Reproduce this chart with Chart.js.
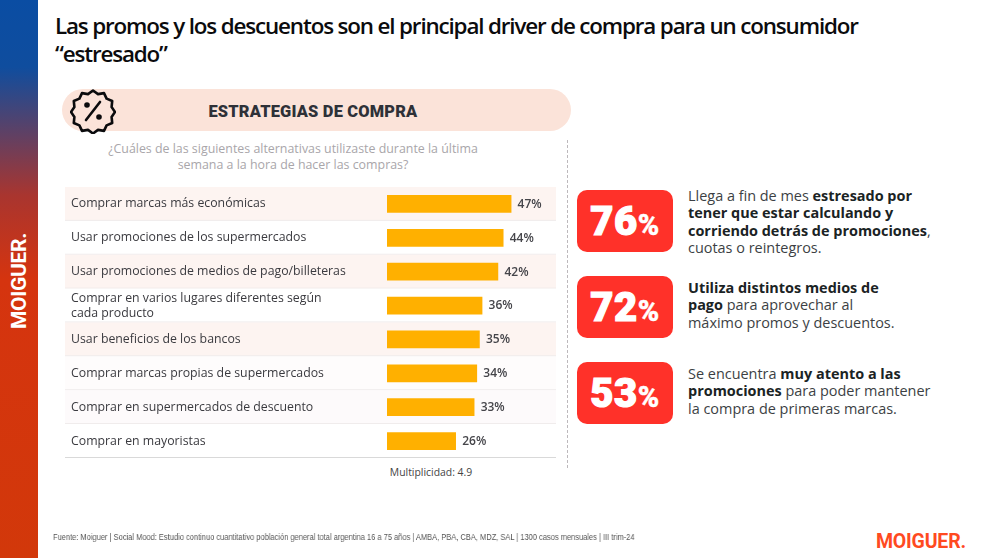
<!DOCTYPE html>
<html lang="es">
<head>
<meta charset="utf-8">
<title>Estrategias de compra</title>
<script src="https://cdn.jsdelivr.net/npm/chart.js@4"></script>
<style>
  html, body { margin: 0; padding: 0; background: #fff; }
  #page { position: relative; width: 992px; height: 558px; overflow: hidden; font-family: "Open Sans", sans-serif; }
  #page > * { position: absolute; }
  #side { left: 0; top: 0; width: 38px; height: 558px; background: linear-gradient(#0a4da3 0%, #0f4d9e 12%, #a9352f 35%, #d5340f 50%, #d2380a 100%); }
  #sideLogo { left: 19px; top: 281px; transform: translate(-50%, -50%) rotate(-90deg); color: #fff; font: 700 21px "Roboto", sans-serif; letter-spacing: -0.3px; white-space: nowrap; }
  #title { left: 55px; top: 12px; width: 880px; color: #0b0b0d; font-size: 22.4px; line-height: 27.5px; font-weight: 600; letter-spacing: -1.15px; white-space: nowrap; }
  #pill { left: 62px; top: 89px; width: 509px; height: 42px; border-radius: 21px; background: #fbe3d9; }
  #badge { left: 70px; top: 88px; }
  #pillText { left: 62px; top: 90px; width: 502px; height: 42px; text-align: center; color: #2e3138; font: 900 16.4px/44px "Roboto", sans-serif; letter-spacing: 0.2px; }
  #question { left: 65px; top: 141px; width: 456px; text-align: center; color: #a9a6aa; font-size: 12.4px; line-height: 15.5px; }
  #wrap { left: 65px; top: 187px; width: 491px; height: 271px; }
  #multi { left: 331px; top: 465px; width: 200px; text-align: center; color: #444; font-size: 10.4px; line-height: 14px; }
  #divider { left: 567px; top: 140px; height: 328px; border-left: 1px dashed #bdb9bc; }
  .card { left: 577px; width: 96px; height: 62px; border-radius: 10px; background: #ff3129; color: #fff; font: 900 40px/64px "Roboto", sans-serif; text-align: center; white-space: nowrap; -webkit-text-stroke: 1.2px #fff; letter-spacing: 0.6px; }
  .card small { font-size: 29px; font-weight: 900; -webkit-text-stroke: 0.4px #fff; }
  .note { left: 688px; width: 270px; color: #3c3f44; font-size: 14.45px; line-height: 17.4px; white-space: nowrap; }
  .note b { color: #1a2324; font-weight: 700; }
  #source { left: 53px; top: 531px; color: #555; font: 400 9.3px/12px "Liberation Sans", sans-serif; white-space: nowrap; transform-origin: left center; transform: scaleX(0.805); will-change: transform; }
  #logo { left: 876px; top: 530px; color: #ff4a1f; font: 700 19.5px/24px "Roboto", sans-serif; letter-spacing: -0.2px; white-space: nowrap; }
</style>
</head>
<body>
<div id="page">
  <div id="side"></div>
  <div id="sideLogo">MOIGUER.</div>
  <div id="title">Las promos y los descuentos son el principal driver de compra para un consumidor<br>“estresado”</div>
  <div id="pill"></div>
  <svg id="badge" width="46" height="46" viewBox="0 0 46 46">
    <path fill="none" stroke="#0b0b0d" stroke-width="2.6" stroke-linejoin="round"
      d="M23 2.5l5 3.6 6-1 2.6 5.5 5.6 2.400-.6 6.100 3.400 4.900-3.400 4.900.6 6.100-5.600 2.400-2.600 5.500-6-1-5 3.600-5-3.600-6 1-2.600-5.500-5.600-2.400.6-6.100-3.400-4.900 3.400-4.900-.6-6.100 5.600-2.400 2.600-5.500 6 1z"/>
    <circle cx="17" cy="17" r="2.800" fill="#0b0b0d"/>
    <circle cx="29" cy="29" r="2.800" fill="#0b0b0d"/>
    <path d="M30 14L16 32" stroke="#0b0b0d" stroke-width="2.600" stroke-linecap="round"/>
  </svg>
  <div id="pillText">ESTRATEGIAS DE COMPRA</div>
  <div id="question">¿Cuáles de las siguientes alternativas utilizaste durante la última<br>semana a la hora de hacer las compras?</div>
  <div id="wrap"><canvas id="chart" width="491" height="271"></canvas></div>
  <div id="multi">Multiplicidad: 4.9</div>
  <div id="divider"></div>

  <div class="card" style="top:190px">76<small>%</small></div>
  <div class="note" style="top:187px">Llega a fin de mes <b>estresado por</b><br><b>tener que estar calculando y</b><br><b>corriendo detrás de promociones</b>,<br>cuotas o reintegros.</div>
  <div class="card" style="top:276px">72<small>%</small></div>
  <div class="note" style="top:279px"><b>Utiliza distintos medios de</b><br><b>pago</b> para aprovechar al<br>máximo promos y descuentos.</div>
  <div class="card" style="top:362px">53<small>%</small></div>
  <div class="note" style="top:365px">Se encuentra <b>muy atento a las</b><br><b>promociones</b> para poder mantener<br>la compra de primeras marcas.</div>

  <div id="source">Fuente: Moiguer | Social Mood: Estudio continuo cuantitativo población general total argentina 16 a 75 años | AMBA, PBA, CBA, MDZ, SAL | 1300 casos mensuales | III trim-24</div>
  <div id="logo">MOIGUER.</div>
</div>

<script>
const categories = [
  'Comprar marcas más económicas',
  'Usar promociones de los supermercados',
  'Usar promociones de medios de pago/billeteras',
  ['Comprar en varios lugares diferentes según', 'cada producto'],
  'Usar beneficios de los bancos',
  'Comprar marcas propias de supermercados',
  'Comprar en supermercados de descuento',
  'Comprar en mayoristas'
];
const shares = [47, 44, 42, 36, 35, 34, 33, 26];
const rowTints = ['#fdf4f1', '#ffffff', '#fdf4f1', '#ffffff', '#fdf4f1', '#fefcfc', '#fdfafb', '#ffffff'];

// row bands have to go down before the axis labels
const rowBands = {
  id: 'rowBands',
  beforeDraw(chart) {
    const { ctx, width, scales: { y } } = chart;
    const rowH = y.height / categories.length;
    ctx.save();
    categories.forEach((c, i) => {
      const top = y.getPixelForValue(i) - rowH / 2;
      ctx.fillStyle = rowTints[i];
      ctx.fillRect(0, top, width, rowH);
      ctx.fillStyle = i === categories.length - 1 ? '#d9d9d9' : '#eeeaea';
      ctx.fillRect(0, top + rowH - 1, width, 1);
    });
    ctx.restore();
  }
};

const valueLabels = {
  id: 'valueLabels',
  afterDatasetsDraw(chart) {
    const { ctx } = chart;
    ctx.save();
    ctx.font = '600 12px "Open Sans", sans-serif';
    ctx.fillStyle = '#45454a';
    ctx.textBaseline = 'middle';
    chart.getDatasetMeta(0).data.forEach((bar, i) => {
      ctx.fillText(shares[i] + '%', bar.x + 6.500, bar.y + 0.500);
    });
    ctx.restore();
  }
};

new Chart(document.getElementById('chart').getContext('2d'), {
  type: 'bar',
  data: {
    labels: categories,
    datasets: [{
      data: shares,
      backgroundColor: '#ffb000',
      barThickness: 17,
      borderWidth: 0
    }]
  },
  options: {
    indexAxis: 'y',
    responsive: false,
    animation: false,
    layout: { padding: { left: 6 } },
    plugins: { legend: { display: false }, tooltip: { enabled: false } },
    scales: {
      x: { min: 0, max: 64, display: false, grid: { display: false } },
      y: {
        grid: { display: false },
        border: { display: false },
        afterFit(axis) {
          axis.width = 316;
          axis.paddingTop = 0;
          axis.paddingBottom = 0;
        },
        ticks: {
          crossAlign: 'far',
          color: '#3a3a3f',
          autoSkip: false,
          font: { family: '"Open Sans", sans-serif', size: 12.300, lineHeight: 1.22 }
        }
      }
    }
  },
  plugins: [rowBands, valueLabels]
});
</script>
</body>
</html>
